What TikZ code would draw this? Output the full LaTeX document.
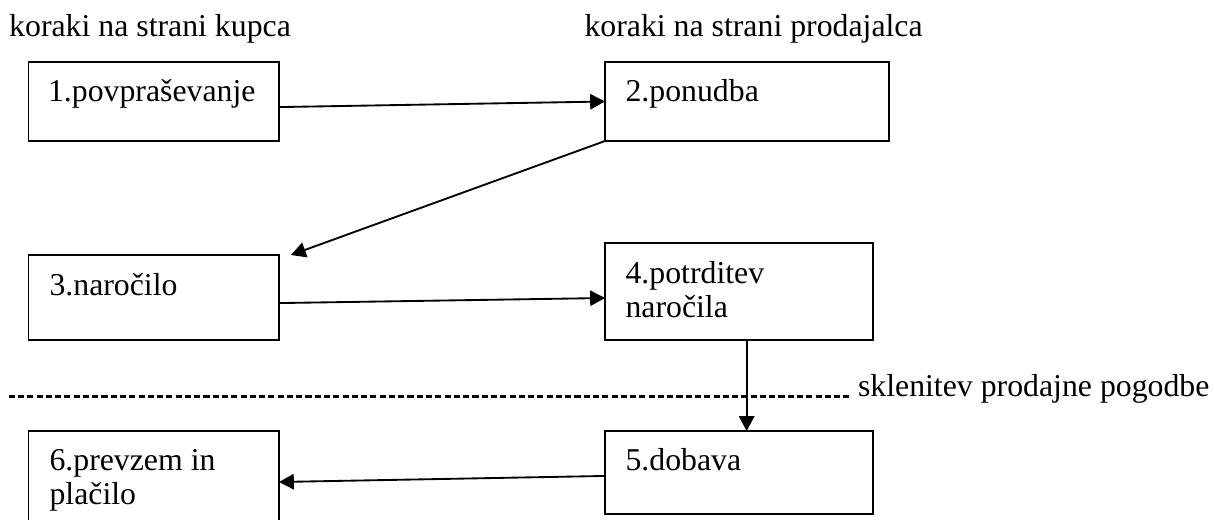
\documentclass[tikz,border=0pt]{standalone}
\usepackage{fontspec}
\setmainfont{Liberation Serif}
\usetikzlibrary{arrows.meta,calc}
\newcommand{\px}{0.3774pt}

\begin{document}
\begin{tikzpicture}[x=\px, y=-\px,
        stepbox/.style={draw, line width=0.75pt, anchor=north west, inner sep=0pt, outer sep=0pt},
        steptext/.style={anchor=base west, inner sep=0pt, font=\fontsize{12}{13.2}\selectfont},
        flow/.style={line width=0.7pt, -{Triangle[length=5.6pt,width=5.8pt]}},
        divider/.style={line width=0.95pt, dash pattern=on 2.3pt off 1.2pt}]
        \useasboundingbox (0,0) rectangle (1214,519);
        \clip (0,0) rectangle (1214,519);
        % headings
        \node[steptext] (kupec) at (8.7,36.5) {koraki na strani kupca};
        \node[steptext] (prodajalec) at (584,36.5) {koraki na strani prodajalca};
        % boxes
        \node[stepbox, minimum width=250.5*\px, minimum height=79*\px] (b1) at (28.5,62) {};
        \node[stepbox, minimum width=284*\px, minimum height=79*\px] (b2) at (605,62) {};
        \node[stepbox, minimum width=250.5*\px, minimum height=85*\px] (b3) at (28.5,255) {};
        \node[stepbox, minimum width=268*\px, minimum height=97*\px] (b4) at (605,243) {};
        \node[stepbox, minimum width=268*\px, minimum height=83*\px] (b5) at (605,431) {};
        \node[stepbox, minimum width=250.5*\px, minimum height=102*\px] (b6) at (28.5,431) {};
        % texts in boxes
        \node[steptext] (t1) at ($(b1.north west)+(19,39)$) {1.povpraševanje};
        \node[steptext] (t2) at ($(b2.north west)+(20,39)$) {2.ponudba};
        \node[steptext] (t3) at ($(b3.north west)+(20.5,40)$) {3.naročilo};
        \node[steptext] (t4) at ($(b4.north west)+(20,40)$) {\begin{tabular}[t]{@{}l@{}}4.potrditev\\naročila\end{tabular}};
        \node[steptext] (t5) at ($(b5.north west)+(20,39)$) {5.dobava};
        \node[steptext] (t6) at ($(b6.north west)+(20.5,39)$) {\begin{tabular}[t]{@{}l@{}}6.prevzem in\\plačilo\end{tabular}};
        % arrows
        \draw[flow] ([yshift=-2.1pt]b1.east) -- (b2.west);
        \draw[flow] (b2.south west) -- ([xshift=4.5pt]b3.north east);
        \draw[flow] ([yshift=-2.1pt]b3.east) -- ([yshift=-2.45pt]b4.west);
        \draw[flow] ([xshift=2.9pt]b4.south) -- ([xshift=2.9pt]b5.north);
        \draw[flow] ([yshift=-1.3pt]b5.west) -- (b6.east);
        % contract line
        \node[steptext] (pogodba) at (857.5,396.5) {sklenitev prodajne pogodbe};
        \coordinate (dl) at (8.7,396.5);
        \coordinate (dr) at ($(pogodba.base west)+(-9,0)$);
        \draw[divider] (dl) -- (dr);
\end{tikzpicture}
\end{document}
